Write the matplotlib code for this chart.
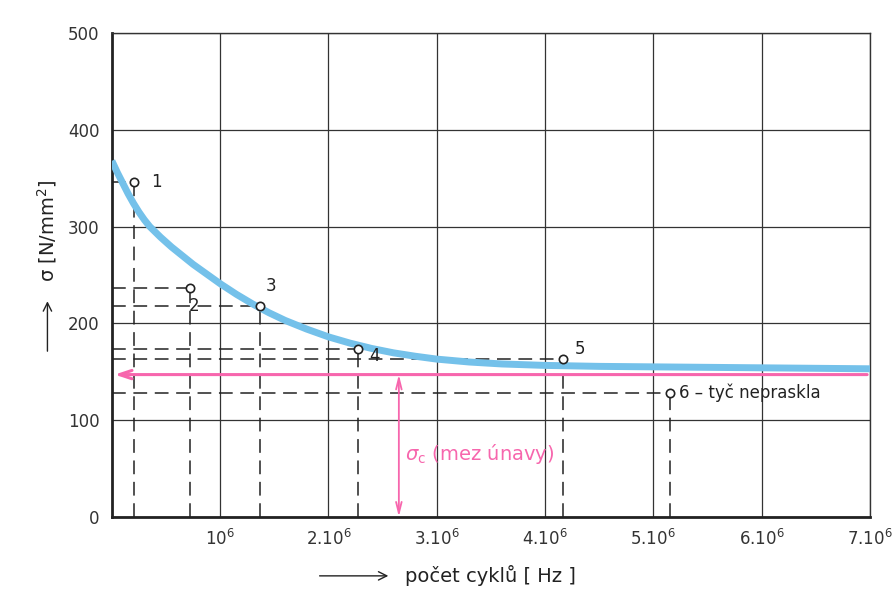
import matplotlib
matplotlib.use('Agg')
import matplotlib.pyplot as plt

# Wöhlerova křivka (N v cyklech, sigma v N/mm2)
krivka_N = [0, 0.05e6, 0.1e6, 0.15e6, 0.2e6, 0.25e6, 0.3e6, 0.35e6, 0.45e6, 0.55e6,
            0.65e6, 0.75e6, 0.85e6, 1.0e6, 1.15e6, 1.3e6, 1.45e6, 1.6e6, 1.8e6, 2.0e6,
            2.2e6, 2.4e6, 2.6e6, 2.8e6, 3.0e6, 3.3e6, 3.6e6, 4.0e6, 4.5e6, 5.0e6,
            6.0e6, 7.0e6]
krivka_s = [368, 356, 345, 334, 324, 315, 307, 300, 289, 279,
            270, 261, 253, 241, 230, 220, 211, 203, 194, 186,
            179.5, 174, 169.5, 166, 163, 160, 158, 156.5, 155.5, 155,
            154, 153]

body_N = [0.2e6, 0.72e6, 1.37e6, 2.27e6, 4.17e6, 5.15e6]
body_s = [346, 237, 218, 173, 163, 128]
body_txt = ['1', '2', '3', '4', '5', '6 – tyč nepraskla']
body_off = [(13, 0), (-1, -13), (4, 14), (8, -5), (8, 7), (7, 0)]

sigma_c = 147
sipka_N = 2.65e6

x_ticks = [1e6, 2e6, 3e6, 4e6, 5e6, 6e6, 7e6]
x_labels = ['$10^6$', '$2.10^6$', '$3.10^6$', '$4.10^6$', '$5.10^6$', '$6.10^6$', '$7.10^6$']
y_ticks = [0, 100, 200, 300, 400, 500]

modra = '#74c1ea'
ruzova = '#f766ad'
cerna = '#222222'
plt.rcParams['font.family'] = ['DejaVu Sans']
plt.rcParams['mathtext.fontset'] = 'dejavusans'

fig = plt.figure(figsize=(8.95, 6.03), dpi=100)
ax = fig.add_axes([0.125, 0.143, 0.847, 0.802])
ax.set_xlim(0, 7e6)
ax.set_ylim(0, 500)

ax.set_xticks(x_ticks)
ax.set_xticklabels(x_labels, fontsize=12)
ax.set_yticks(y_ticks)
ax.set_yticklabels([str(v) for v in y_ticks], fontsize=12)
ax.tick_params(length=0, pad=9, colors='#333333')
ax.grid(True, color='#333333', lw=0.9)
ax.set_axisbelow(True)
for s in ['top', 'right']:
    ax.spines[s].set_linewidth(1.0)
    ax.spines[s].set_color('#333333')
for s in ['left', 'bottom']:
    ax.spines[s].set_linewidth(2.0)
    ax.spines[s].set_color(cerna)

# čárkované odečtové čáry
for n, s in zip(body_N, body_s):
    ax.plot([0, n], [s, s], color=cerna, lw=1.1, dashes=(9, 5), zorder=2)
    ax.plot([n, n], [0, s], color=cerna, lw=1.1, dashes=(9, 5), zorder=2)

# křivka
ax.plot(krivka_N, krivka_s, color=modra, lw=5, solid_capstyle='butt',
        solid_joinstyle='round', zorder=3)

# mez únavy
ax.annotate('', xy=(0, sigma_c), xytext=(7e6, sigma_c),
            arrowprops=dict(arrowstyle='->,head_length=0.9,head_width=0.3',
                            color=ruzova, lw=2.2), zorder=4)
ax.annotate('', xy=(sipka_N, 0), xytext=(sipka_N, sigma_c),
            arrowprops=dict(arrowstyle='<->,head_length=0.8,head_width=0.2',
                            color=ruzova, lw=1.3, shrinkA=0, shrinkB=0), zorder=4)
ax.text(sipka_N + 0.06e6, 65, r'$\sigma_{\rm c}$ (mez únavy)', color=ruzova,
        fontsize=14, va='center', ha='left', zorder=5)

# body
ax.plot(body_N, body_s, 'o', ms=6, mfc='white', mec=cerna, mew=1.2, zorder=5)
for n, s, t, off in zip(body_N, body_s, body_txt, body_off):
    ax.annotate(t, (n, s), xytext=off, textcoords='offset points', fontsize=12,
                color=cerna, va='center', ha='left', zorder=6)

# popisy os
fig.text(0.053, 0.617, 'σ [N/mm$^2$]', rotation=90, fontsize=14, ha='center', va='center',
         color=cerna)
fig.add_artist(matplotlib.patches.FancyArrowPatch(
    (0.053, 0.413), (0.053, 0.505), transform=fig.transFigure,
    arrowstyle='->,head_length=6,head_width=3', color=cerna, lw=1.0))
fig.text(0.453, 0.045, 'počet cyklů [ Hz ]', fontsize=14, ha='left', va='center',
         color=cerna)
fig.add_artist(matplotlib.patches.FancyArrowPatch(
    (0.354, 0.045), (0.437, 0.045), transform=fig.transFigure,
    arrowstyle='->,head_length=6,head_width=3', color=cerna, lw=1.0))

fig.savefig('out.png', dpi=100, facecolor='white')
